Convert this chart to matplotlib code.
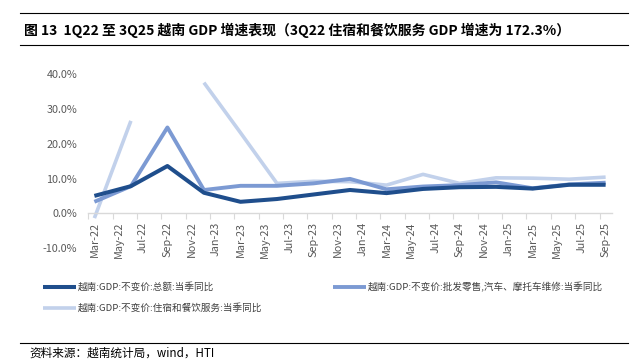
import matplotlib
matplotlib.use("Agg")
import matplotlib.pyplot as plt
from matplotlib.lines import Line2D
from matplotlib.ticker import FuncFormatter, FixedLocator
import numpy as np
import pandas as pd

plt.rcParams['font.family'] = ['Noto Sans CJK SC', 'DejaVu Sans']

# ---- data ----
quarters = ['2022-03', '2022-06', '2022-09', '2022-12',
            '2023-03', '2023-06', '2023-09', '2023-12',
            '2024-03', '2024-06', '2024-09', '2024-12',
            '2025-03', '2025-06', '2025-09']
gdp_total = [5.0, 7.8, 13.6, 5.9, 3.3, 4.1, 5.4, 6.7, 5.8, 7.0, 7.5, 7.6, 7.1, 8.2, 8.2]
gdp_wholesale = [3.3, 7.8, 24.7, 6.7, 7.9, 7.9, 8.6, 9.9, 6.9, 7.7, 8.1, 8.9, 7.2, 8.3, 8.8]
gdp_accom = [-1.4, 26.6, np.nan, 37.6, 23.2, 8.6, 9.2, 9.1, 8.1, 11.2, 8.6, 10.2, 10.1, 9.8, 10.4]
tick_labels = ['Mar-22', 'May-22', 'Jul-22', 'Sep-22', 'Nov-22', 'Jan-23', 'Mar-23',
               'May-23', 'Jul-23', 'Sep-23', 'Nov-23', 'Jan-24', 'Mar-24', 'May-24',
               'Jul-24', 'Sep-24', 'Nov-24', 'Jan-25', 'Mar-25', 'May-25', 'Jul-25', 'Sep-25']
series_names = ['越南:GDP:不变价:总额:当季同比',
                '越南:GDP:不变价:批发零售,汽车、摩托车维修:当季同比',
                '越南:GDP:不变价:住宿和餐饮服务:当季同比']
title = '图 13  1Q22 至 3Q25 越南 GDP 增速表现（3Q22 住宿和餐饮服务 GDP 增速为 172.3%）'
source = '资料来源：越南统计局，wind，HTI'

colors = ['#1f4e8c', '#7c9ad3', '#c2d1eb']

# month index relative to first quarter
base = pd.Period(quarters[0], 'M')
x = np.array([(pd.Period(q, 'M') - base).n for q in quarters])
n_months = (pd.Period(quarters[-1], 'M') - base).n

fig = plt.figure(figsize=(6.32, 3.59), dpi=100)
ax = fig.add_axes([88.3 / 632, 1 - 248.0 / 359, (611.7 - 88.3) / 632, (248.0 - 74.3) / 359])

ax.plot(x, gdp_accom, color=colors[2], lw=2.6, solid_capstyle='butt', zorder=2)
ax.plot(x, gdp_wholesale, color=colors[1], lw=2.8, solid_capstyle='butt', zorder=3)
ax.plot(x, gdp_total, color=colors[0], lw=2.9, solid_capstyle='butt', zorder=4)

ax.set_xlim(-0.5, n_months + 0.5)
ax.set_ylim(-10, 40)
ax.set_yticks([-10, 0, 10, 20, 30, 40])
ax.yaxis.set_major_formatter(FuncFormatter(lambda v, p: f'{v:.1f}%'))

major = np.arange(0, n_months + 1, 2)
ax.xaxis.set_major_locator(FixedLocator(major))
ax.set_xticklabels(tick_labels)
ax.xaxis.set_minor_locator(FixedLocator(np.arange(-0.5, n_months, 2)))

for s in ['top', 'right', 'left']:
    ax.spines[s].set_visible(False)
ax.spines['bottom'].set_position(('data', 0))
ax.spines['bottom'].set_color('#d9d9d9')
ax.spines['bottom'].set_linewidth(1.0)

ax.tick_params(axis='x', which='major', length=0, pad=6, labelsize=7.8, labelcolor='#595959',
               labelrotation=90)
ax.tick_params(axis='x', which='minor', length=4, width=0.8, color='#d9d9d9', direction='out')
ax.tick_params(axis='y', length=0, pad=8, labelsize=7.8, labelcolor='#595959')
for lab in ax.get_xticklabels():
    lab.set_va('top')
    lab.set_ha('center')

# legend
def leg_entry(x0, y, color, lw, text):
    fig.add_artist(Line2D([x0 / 632, (x0 + 33) / 632], [1 - y / 359, 1 - y / 359],
                          color=color, lw=lw, solid_capstyle='butt'))
    fig.text((x0 + 35) / 632, 1 - y / 359, text, fontsize=6.9, color='#404040',
             va='center', ha='left')

leg_entry(43, 286.7, colors[0], 2.9, series_names[0])
leg_entry(333, 286.7, colors[1], 2.8, series_names[1])
leg_entry(43, 308.3, colors[2], 2.6, series_names[2])

# title and frame lines
fig.add_artist(Line2D([20 / 632, 628 / 632], [1 - 12.5 / 359, 1 - 12.5 / 359], color='black', lw=0.8))
fig.add_artist(Line2D([20 / 632, 628 / 632], [1 - 45 / 359, 1 - 45 / 359], color='black', lw=0.8))
fig.text(24 / 632, 1 - 30 / 359, title, fontsize=10, fontweight='bold', color='black',
         va='center', ha='left')
fig.add_artist(Line2D([20 / 632, 628 / 632], [1 - 343 / 359, 1 - 343 / 359], color='black', lw=0.8))
fig.text(29 / 632, 1 - 353 / 359, source, fontsize=8.4, color='black', va='center', ha='left')

fig.savefig('out.png', dpi=100)
